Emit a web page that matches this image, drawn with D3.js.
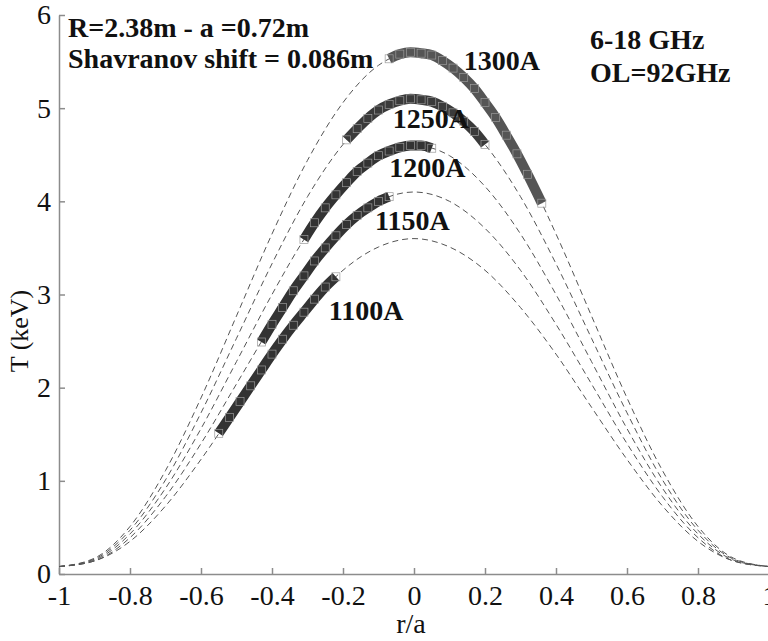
<!DOCTYPE html>
<html>
<head>
<meta charset="utf-8">
<script src="https://cdn.jsdelivr.net/npm/d3@7"></script>
<style>
  body { margin: 0; background: #fff; }
  svg { display: block; }
  .axis path, .axis line { stroke: #8c8c8c; stroke-width: 1.5; }
  .note { font-weight: bold; font-size: 28px; fill: #111; }
</style>
</head>
<body>
<script>
// profile grid (r/a) and the five fitted profiles (keV)
var rGrid = [-1, -0.9, -0.8, -0.7, -0.6, -0.5, -0.4, -0.3, -0.2, -0.1, 0,
             0.1, 0.2, 0.3, 0.4, 0.5, 0.6, 0.7, 0.8, 0.9, 1];
var fit1100 = [0.08, 0.14, 0.35, 0.73, 1.23, 1.79, 2.36, 2.86, 3.26, 3.51, 3.60,
               3.51, 3.26, 2.86, 2.36, 1.79, 1.23, 0.73, 0.35, 0.14, 0.08];
var fit1150 = [0.08, 0.14, 0.39, 0.83, 1.40, 2.04, 2.68, 3.26, 3.71, 4.00, 4.10,
               4.00, 3.71, 3.26, 2.68, 2.04, 1.40, 0.83, 0.39, 0.14, 0.08];
var fit1200 = [0.08, 0.15, 0.43, 0.92, 1.56, 2.28, 3.00, 3.65, 4.16, 4.49, 4.60,
               4.49, 4.16, 3.65, 3.00, 2.28, 1.56, 0.92, 0.43, 0.15, 0.08];
var fit1250 = [0.08, 0.16, 0.47, 1.01, 1.73, 2.53, 3.33, 4.05, 4.61, 4.98, 5.10,
               4.98, 4.61, 4.05, 3.33, 2.53, 1.73, 1.01, 0.47, 0.16, 0.08];
var fit1300 = [0.08, 0.17, 0.51, 1.11, 1.89, 2.77, 3.65, 4.44, 5.06, 5.46, 5.60,
               5.46, 5.06, 4.44, 3.65, 2.77, 1.89, 1.11, 0.51, 0.17, 0.08];

// measured ECE points for each plasma current
var r1100 = [-0.55, -0.52, -0.49, -0.46, -0.43, -0.40, -0.37, -0.34, -0.31, -0.28, -0.25, -0.22];
var t1100 = [1.51, 1.68, 1.85, 2.02, 2.19, 2.36, 2.52, 2.67, 2.81, 2.95, 3.08, 3.19];
var r1150 = [-0.43, -0.40, -0.37, -0.34, -0.31, -0.28, -0.25, -0.22, -0.19, -0.16, -0.13, -0.10, -0.07];
var t1150 = [2.49, 2.68, 2.86, 3.04, 3.20, 3.36, 3.50, 3.63, 3.75, 3.85, 3.93, 4.00, 4.05];
var r1200 = [-0.31, -0.28, -0.25, -0.22, -0.19, -0.16, -0.13, -0.10, -0.07, -0.04, -0.01, 0.02, 0.05];
var t1200 = [3.59, 3.77, 3.93, 4.07, 4.20, 4.32, 4.41, 4.49, 4.54, 4.58, 4.60, 4.60, 4.57];
var r1250 = [-0.19, -0.16, -0.13, -0.10, -0.07, -0.04, -0.01, 0.02, 0.05, 0.08, 0.11, 0.14, 0.17, 0.20];
var t1250 = [4.66, 4.78, 4.89, 4.98, 5.04, 5.08, 5.10, 5.09, 5.07, 5.02, 4.95, 4.86, 4.75, 4.61];
var r1300 = [-0.07, -0.04, -0.01, 0.02, 0.05, 0.08, 0.11, 0.14, 0.17, 0.20, 0.23, 0.26, 0.29, 0.32, 0.36];
var t1300 = [5.53, 5.58, 5.60, 5.59, 5.57, 5.51, 5.43, 5.33, 5.21, 5.06, 4.90, 4.71, 4.51, 4.29, 3.98];

var currents = ["1100A", "1150A", "1200A", "1250A", "1300A"];
var xTicks = [-1, -0.8, -0.6, -0.4, -0.2, 0, 0.2, 0.4, 0.6, 0.8, 1];
var yTicks = [0, 1, 2, 3, 4, 5, 6];

var width = 768,
    height = 641;
var serif = "'Liberation Serif', 'Times New Roman', serif";

var svg = d3.select("body")
  .append("svg")
  .attr("width", width)
  .attr("height", height)
  .attr("font-family", serif);

// scales
var x = d3.scaleLinear().domain([-1, 1]).range([59, 769]);
var y = d3.scaleLinear().domain([0, 6]).range([574, 15]);

// axes, ticks point inward like matlab
var fmt = function(d) { return String(d); };
var xAxis = svg.append("g")
  .attr("class", "axis")
  .attr("transform", "translate(0," + y(0) + ")")
  .call(d3.axisBottom(x).tickValues(xTicks).tickFormat(fmt)
    .tickSizeInner(-6).tickSizeOuter(0).tickPadding(11));

var yAxis = svg.append("g")
  .attr("class", "axis")
  .attr("transform", "translate(" + x(-1) + ",0)")
  .call(d3.axisLeft(y).tickValues(yTicks).tickFormat(fmt)
    .tickSizeInner(-6).tickSizeOuter(0).tickPadding(8));

// d3 sets sans-serif 10px on the axis group, override it
[xAxis, yAxis].forEach(function(g) {
  g.attr("font-family", serif).attr("font-size", 28);
  g.selectAll("text").attr("fill", "#111");
});

// axis labels
svg.append("text")
  .attr("x", 411).attr("y", 633)
  .attr("text-anchor", "middle")
  .attr("font-size", 28)
  .attr("fill", "#111")
  .text("r/a");

svg.append("text")
  .attr("transform", "translate(28,331) rotate(-90)")
  .attr("text-anchor", "middle")
  .attr("font-size", 26)
  .attr("fill", "#111")
  .text("T (keV)");

// fitted profiles, dashed
var fitLine = d3.line()
  .x(function(d, i) { return x(rGrid[i]); })
  .y(function(d) { return y(d); })
  .curve(d3.curveMonotoneX);

[fit1100, fit1150, fit1200, fit1250, fit1300].forEach(function(f) {
  svg.append("path")
    .attr("d", fitLine(f))
    .attr("fill", "none")
    .attr("stroke", "#555")
    .attr("stroke-width", 1)
    .attr("stroke-dasharray", "6,4");
});

// measured points: thick band of square markers
var bands = [[r1100, t1100], [r1150, t1150], [r1200, t1200], [r1250, t1250], [r1300, t1300]];
var bandColor = ["#333", "#333", "#333", "#3a3a3a", "#555"];

var bandLine = d3.line()
  .x(function(d) { return x(d[0]); })
  .y(function(d) { return y(d[1]); })
  .curve(d3.curveMonotoneX);

bands.forEach(function(b, k) {
  var pts = b[0].map(function(r, i) { return [r, b[1][i]]; });
  svg.append("path")
    .attr("d", bandLine(pts))
    .attr("fill", "none")
    .attr("stroke", bandColor[k])
    .attr("stroke-width", 10);

  svg.selectAll(null)
    .data(pts)
    .enter()
    .append("rect")
    .attr("x", function(d) { return x(d[0]) - 4; })
    .attr("y", function(d) { return y(d[1]) - 4; })
    .attr("width", 8)
    .attr("height", 8)
    .attr("fill", "none")
    .attr("stroke", "#9a9a9a")
    .attr("stroke-width", 0.7);
});

// current labels
var labelAt = [[-0.24, 2.73], [-0.11, 3.69], [-0.07, 4.26], [-0.06, 4.79], [0.14, 5.41]];
currents.forEach(function(c, i) {
  svg.append("text")
    .attr("class", "note")
    .attr("x", x(labelAt[i][0]))
    .attr("y", y(labelAt[i][1]))
    .text(c);
});

// annotations
svg.append("text").attr("class", "note").attr("x", 68).attr("y", 37).text("R=2.38m - a =0.72m");
svg.append("text").attr("class", "note").attr("x", 68).attr("y", 68).text("Shavranov shift = 0.086m");
svg.append("text").attr("class", "note").attr("x", 590).attr("y", 49).text("6-18 GHz");
svg.append("text").attr("class", "note").attr("x", 590).attr("y", 82).text("OL=92GHz");
</script>
</body>
</html>
